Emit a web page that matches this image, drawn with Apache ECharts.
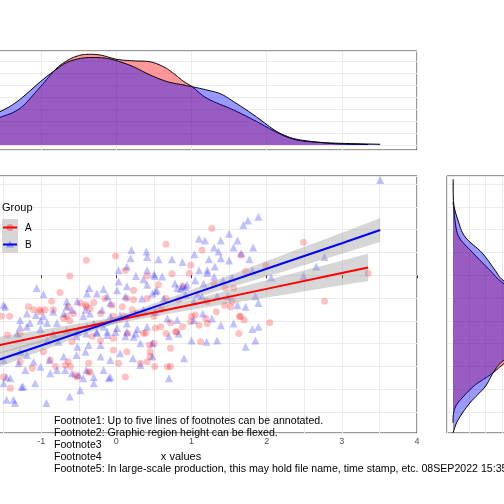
<!DOCTYPE html>
<html><head><meta charset="utf-8">
<script src="https://cdn.jsdelivr.net/npm/echarts@6/dist/echarts.min.js"></script>
<style>html,body{margin:0;padding:0;background:#fff}#c{width:504px;height:504px}</style>
</head><body><div id="c"></div>
<script>
// Group A (red circles): [x, y]
const groupA = [[1.27,1.03],[0.66,0.68],[2.49,0.72],[1.14,0.55],[1.66,0.44],[-0.01,0.42],[-0.40,0.33],[0.99,0.22],[1.99,0.22],[1.72,0.08],
[0.12,0.11],[-0.62,-0.02],[0.41,-0.02],[0.74,0.03],[0.97,0.04],[3.35,0.04],[0.23,-0.33],[0.56,-0.21],[0.88,-0.24],[1.30,-0.18],
[1.45,-0.28],[1.56,-0.28],[-0.75,-0.38],[-0.86,-0.57],[-0.48,-0.61],[-0.40,-0.69],[-0.15,-0.51],[-0.06,-0.66],[0.14,-0.51],[0.23,-0.54],
[0.41,-0.51],[0.66,-0.51],[0.83,-0.54],[1.21,-0.57],[1.44,-0.66],[1.54,-0.57],[2.77,-0.57],[-1.53,-0.90],[-1.42,-0.90],[-1.17,-0.69],
[-1.10,-0.76],[-1.02,-0.76],[-0.95,-0.76],[-0.84,-0.76],[-0.66,-0.90],[-0.57,-0.84],[-0.35,-0.73],[-0.21,-0.84],[-0.04,-0.90],[0.10,-0.90],
[0.28,-0.84],[0.50,-0.90],[0.72,-1.04],[0.88,-1.13],[1.00,-0.90],[1.10,-1.10],[1.21,-1.06],[1.33,-0.80],[1.64,-0.90],[1.70,-0.98],
[2.04,-1.04],[-1.45,-1.31],[-1.28,-1.28],[-0.97,-1.68],[-0.59,-1.46],[-0.32,-1.34],[-0.21,-1.43],[-0.04,-1.38],[0.15,-1.28],[0.36,-1.28],
[0.44,-1.53],[0.50,-1.49],[0.66,-1.28],[0.80,-1.24],[1.12,-1.46],[1.63,-1.28],[-0.04,-1.64],[0.14,-1.68],[0.45,-1.68],[-1.28,-1.90],
[-1.12,-2.04],[-0.88,-1.86],[-0.81,-2.00],[-0.64,-1.90],[-0.61,-2.00],[-0.37,-1.93],[0.03,-1.93],[0.32,-1.93],[0.51,-2.00],[0.72,-2.00],
[0.45,-1.78],[-1.50,-2.23],[-1.41,-2.48],[-0.55,-2.19],[-0.35,-2.12],[0.12,-2.23],[-0.70,-0.95],[-0.62,-1.00],[-0.30,-0.60],[0.60,-0.75],
[-0.64,-0.69],[-0.41,-0.65],[0.08,-0.69],[0.21,-0.76],[0.52,-1.16],[0.39,-1.27],[0.59,-1.13],[0.79,-1.24],[0.99,-1.02],[1.05,-0.87],
[1.19,-0.95],[1.52,-0.69],[1.65,-0.91],[0.72,-1.60],[0.68,-2.01],[0.41,-1.90],[-0.68,-1.97],[-0.52,-2.23],[-0.37,-2.12],[-1.01,-0.80]];

// Group B (blue triangles): [x, y]
const groupB = [[3.51,2.09],[1.89,1.28],[1.75,1.20],[1.69,1.10],[1.50,0.91],[1.10,0.80],[1.18,0.76],[1.39,0.76],[1.61,0.76],[1.30,0.61],
[1.36,0.52],[1.56,0.61],[1.82,0.61],[0.20,0.55],[0.40,0.52],[1.66,0.48],[0.19,0.37],[0.41,0.40],[0.56,0.35],[0.74,0.35],
[0.88,0.29],[1.04,0.46],[1.23,0.35],[1.39,0.37],[1.50,0.32],[1.77,0.35],[2.77,0.40],[2.66,0.19],[0.14,0.19],[0.03,0.11],
[0.41,0.11],[1.21,0.11],[1.31,0.19],[1.10,0.11],[0.03,-0.14],[0.14,-0.24],[0.26,-0.02],[0.51,-0.02],[0.61,-0.03],[0.78,-0.18],
[0.88,-0.24],[0.94,-0.21],[0.81,-0.28],[1.05,-0.11],[1.16,-0.18],[1.30,-0.03],[1.42,-0.11],[1.54,-0.05],[1.81,0.11],[2.06,-0.05],
[2.49,-0.02],[-0.36,-0.28],[-0.17,-0.30],[0.01,-0.33],[0.41,-0.21],[0.54,-0.33],[-1.06,-0.28],[-0.97,-0.42],[-0.66,-0.57],[-0.52,-0.57],
[-0.39,-0.40],[-0.26,-0.40],[-0.12,-0.46],[-0.08,-0.61],[0.12,-0.46],[0.34,-0.51],[0.48,-0.40],[0.63,-0.51],[0.92,-0.42],[1.03,-0.57],
[1.14,-0.46],[1.34,-0.46],[1.48,-0.46],[1.61,-0.66],[1.72,-0.69],[1.85,-0.46],[1.89,-0.61],[-1.48,-0.69],[-1.19,-0.84],[-1.07,-0.87],
[-0.97,-0.90],[-0.84,-0.80],[-0.70,-0.84],[-0.59,-0.76],[-0.44,-0.90],[-0.35,-0.84],[-0.19,-0.76],[-0.08,-0.90],[0.05,-0.87],[0.26,-0.84],
[0.36,-0.76],[0.52,-0.80],[0.68,-0.95],[0.81,-0.98],[1.03,-0.98],[1.15,-0.84],[1.27,-0.95],[1.56,-1.06],[1.81,-1.18],[1.89,-1.13],
[1.39,-1.10],[-1.32,-1.28],[-1.19,-1.13],[-1.01,-1.18],[-0.84,-1.28],[-0.92,-1.43],[-0.77,-1.46],[-0.53,-1.34],[-0.40,-1.28],[-0.26,-1.24],
[-0.12,-1.31],[-0.01,-1.24],[0.12,-1.34],[0.26,-1.28],[0.32,-1.49],[0.48,-1.49],[0.70,-1.34],[0.83,-1.28],[1.00,-1.43],[1.20,-1.46],
[1.34,-1.43],[1.72,-1.57],[1.85,-1.43],[-0.52,-1.57],[-0.37,-1.53],[-0.21,-1.53],[-1.50,-1.86],[-1.28,-1.68],[-1.19,-1.75],[-1.10,-1.90],
[-0.89,-1.86],[-0.70,-1.78],[-0.53,-1.75],[-0.41,-1.68],[-0.21,-1.78],[-0.08,-1.86],[0.05,-1.71],[0.22,-1.82],[0.32,-1.97],[0.48,-1.78],
[0.90,-1.82],[-0.17,-2.08],[-0.40,-2.08],[-0.68,-2.08],[-1.41,-2.26],[-1.50,-2.37],[-1.24,-2.44],[-1.08,-2.37],[-0.88,-2.15],[-0.50,-2.19],
[-0.48,-2.52],[-0.30,-2.37],[-0.10,-2.26],[0.70,-2.26],[-0.62,-2.66],[-1.46,-2.73],[-1.37,-2.73],[-1.35,-2.80],[-0.93,-2.80],[-0.66,-0.69],
[-0.41,-0.76],[-0.30,-1.06],[-0.17,-1.13],[0.14,-1.06],[0.28,-1.18],[0.41,-1.13],[-1.01,-1.00],[-1.28,-1.13],[0.86,-0.30],[0.92,-0.26],
[-1.50,-0.65],[-1.28,-0.98],[-1.15,-1.05],[-0.92,-1.05],[-0.79,-1.05],[-0.66,-1.20],[-0.52,-1.24],[-0.39,-1.13],[-0.26,-1.27],[-0.12,-1.24],
[0.01,-1.16],[0.14,-1.24],[0.23,-1.35],[-1.30,-1.93],[-1.21,-2.08],[-1.01,-2.01],[-0.79,-2.08],[-0.59,-2.15],[-0.44,-2.26],[-0.30,-2.23],
[-0.08,-2.23],[-1.46,-2.23],[-1.26,-2.45],[0.50,0.02],[0.36,-0.09],[0.52,-0.35],[1.08,-0.42],[1.21,0.05]];

// Linear fits with confidence half-widths
const fitA_x  = [-2.0, -1.0, 0.0, 1.0, 2.0, 3.0, 3.35];
const fitA_y  = [-1.69, -1.34, -0.99, -0.65, -0.30, 0.05, 0.17];
const fitA_se = [0.22, 0.14, 0.08, 0.11, 0.19, 0.27, 0.30];
const fitB_x  = [-2.0, -1.0, 0.0, 1.0, 2.0, 3.0, 3.51];
const fitB_y  = [-2.10, -1.54, -0.98, -0.42, 0.14, 0.70, 0.99];
const fitB_se = [0.19, 0.12, 0.07, 0.10, 0.17, 0.23, 0.26];

// Marginal density of x: [x, density]
const densXA = [[-2.0,0.07],[-1.8,0.09],[-1.55,0.115],[-1.28,0.153],[-1.01,0.243],[-0.81,0.315],[-0.66,0.351],[-0.52,0.371],[-0.39,0.378],
[-0.21,0.375],[0.01,0.357],[0.23,0.351],[0.45,0.347],[0.63,0.326],[0.76,0.299],[0.90,0.264],[1.01,0.243],[1.21,0.194],[1.56,0.146],
[1.83,0.104],[2.10,0.058],[2.28,0.032],[2.45,0.018],[2.72,0.010],[2.99,0.004],[3.35,0.002]];
const densXB = [[-2.0,0.09],[-1.8,0.11],[-1.55,0.139],[-1.32,0.181],[-1.01,0.264],[-0.81,0.313],[-0.66,0.344],[-0.48,0.361],[-0.30,0.365],
[-0.12,0.361],[0.05,0.347],[0.23,0.326],[0.45,0.292],[0.68,0.264],[0.90,0.250],[1.01,0.243],[1.21,0.229],[1.39,0.213],[1.56,0.181],
[1.83,0.125],[2.10,0.063],[2.28,0.035],[2.45,0.021],[2.72,0.011],[2.99,0.007],[3.51,0.003]];

// Marginal density of y: [y, density]
const densYA = [[-3.24,0.0],[-3.02,0.002],[-2.80,0.015],[-2.45,0.061],[-2.30,0.09],[-2.14,0.123],[-1.93,0.158],[-1.6,0.22],[-1.1,0.29],
[-0.6,0.25],[-0.17,0.153],[0.11,0.113],[0.49,0.061],[0.84,0.018],[1.21,0.006],[1.43,0.003],[1.6,0.0]];
const densYB = [[-3.46,0.0],[-3.18,0.015],[-2.80,0.052],[-2.45,0.098],[-2.14,0.123],[-1.93,0.145],[-1.8,0.17],[-1.4,0.25],[-0.9,0.28],
[-0.4,0.22],[-0.11,0.153],[0.11,0.129],[0.49,0.089],[0.84,0.037],[1.21,0.015],[1.58,0.002],[2.1,0.0005]];

const footnotes = [
 'Footnote1: Up to five lines of footnotes can be annotated.',
 'Footnote2: Graphic region height can be flexed.',
 'Footnote3',
 'Footnote4',
 'Footnote5: In large-scale production, this may hold file name, time stamp, etc. 08SEP2022 15:35'
];
const legendTitle = 'Group';
const groupNames = ['A', 'B'];
const xTitle = 'x values';

const FONT = '"Liberation Sans", Arial, sans-serif';
const GRIDC = '#EBEBEB';
const BORDER = '#333333';

function catmull(pts, n) {
  const out = [];
  for (let i = 0; i < pts.length - 1; i++) {
    const p0 = pts[Math.max(i - 1, 0)], p1 = pts[i], p2 = pts[i + 1], p3 = pts[Math.min(i + 2, pts.length - 1)];
    for (let k = 0; k < n; k++) {
      const t = k / n, t2 = t * t, t3 = t2 * t;
      out.push([0, 1].map(j => 0.5 * ((2 * p1[j]) + (-p0[j] + p2[j]) * t + (2 * p0[j] - 5 * p1[j] + 4 * p2[j] - p3[j]) * t2 + (-p0[j] + 3 * p1[j] - 3 * p2[j] + p3[j]) * t3)));
    }
  }
  out.push(pts[pts.length - 1]);
  return out;
}

function densitySeries(pts, horizontal, color, xi, yi, z) {
  return {
    type: 'custom', xAxisIndex: xi, yAxisIndex: yi, clip: true, silent: true, z: z,
    data: pts, encode: horizontal ? { x: 1, y: 0 } : { x: 0, y: 1 },
    renderItem: function (params, api) {
      if (params.dataIndex !== 0) return null;
      const raw = pts.map(p => horizontal ? api.coord([p[1], p[0]]) : api.coord([p[0], p[1]]));
      const line = catmull(raw, 8);
      const first = pts[0][0], last = pts[pts.length - 1][0];
      const b0 = horizontal ? api.coord([0, first]) : api.coord([first, 0]);
      const b1 = horizontal ? api.coord([0, last]) : api.coord([last, 0]);
      return {
        type: 'group', children: [
          { type: 'polygon', shape: { points: [b0].concat(line, [b1]) }, style: { fill: color, stroke: null } },
          { type: 'polyline', shape: { points: line }, style: { fill: null, stroke: '#000', lineWidth: 1 } }
        ]
      };
    }
  };
}

function bandSeries(xs, ys, se) {
  return {
    type: 'custom', xAxisIndex: 0, yAxisIndex: 0, clip: true, silent: true, z: 3,
    data: xs.map((x, i) => [x, ys[i] - se[i], ys[i] + se[i]]),
    encode: { x: 0, y: [1, 2] },
    renderItem: function (params, api) {
      if (params.dataIndex !== 0) return null;
      const up = catmull(xs.map((x, i) => api.coord([x, ys[i] + se[i]])), 6);
      const lo = catmull(xs.map((x, i) => api.coord([x, ys[i] - se[i]])), 6).reverse();
      return { type: 'polygon', shape: { points: up.concat(lo) }, style: { fill: 'rgba(153,153,153,0.4)', stroke: null } };
    }
  };
}

const chart = echarts.init(document.getElementById('c'), null, { renderer: 'canvas' });

const hiddenAxisBits = { axisLine: { show: false }, axisTick: { show: false }, axisLabel: { show: false } };
const gridCommon = { show: true, borderColor: BORDER, borderWidth: 1, backgroundColor: '#fff', containLabel: false, outerBoundsMode: 'none' };

const option = {
  backgroundColor: '#fff',
  animation: false,
  grid: [
    Object.assign({ left: -34, right: 87, top: 176, bottom: 71 }, gridCommon),
    Object.assign({ left: -34, right: 87, top: 51, bottom: 354 }, gridCommon),
    Object.assign({ left: 447, right: -100, top: 176, bottom: 71 }, gridCommon)
  ],
  xAxis: [
    { type: 'value', gridIndex: 0, min: -2, max: 4, interval: 1,
      axisLine: { show: false },
      axisTick: { show: true, length: 3, lineStyle: { color: BORDER } },
      axisLabel: { show: true, margin: 4, fontSize: 9, color: '#4D4D4D', fontFamily: FONT, hideOverlap: false },
      splitLine: { show: true, lineStyle: { color: GRIDC, width: 1 } },
      minorTick: { show: false, splitNumber: 2 },
      minorSplitLine: { show: true, lineStyle: { color: GRIDC, width: 1 } } },
    Object.assign({ type: 'value', gridIndex: 1, min: -2, max: 4, interval: 1,
      splitLine: { show: true, lineStyle: { color: GRIDC, width: 1 } } }, hiddenAxisBits),
    Object.assign({ type: 'value', gridIndex: 2, min: -0.0184, max: 0.463, minInterval: 0.05, maxInterval: 0.05,
      splitLine: { show: true, lineStyle: { color: GRIDC, width: 1 } } }, hiddenAxisBits)
  ],
  yAxis: [
    Object.assign({ type: 'value', gridIndex: 0, min: -3.46, max: 2.175, minInterval: 0.5, maxInterval: 0.5,
      splitLine: { show: true, lineStyle: { color: GRIDC, width: 1 } } }, hiddenAxisBits),
    Object.assign({ type: 'value', gridIndex: 1, min: -0.0208, max: 0.392, minInterval: 0.05, maxInterval: 0.05,
      splitLine: { show: true, lineStyle: { color: GRIDC, width: 1 } } }, hiddenAxisBits),
    Object.assign({ type: 'value', gridIndex: 2, min: -3.46, max: 2.175, minInterval: 0.5, maxInterval: 0.5,
      splitLine: { show: true, lineStyle: { color: GRIDC, width: 1 } } }, hiddenAxisBits)
  ],
  series: [
    { type: 'scatter', xAxisIndex: 0, yAxisIndex: 0, data: groupA, symbol: 'circle', symbolSize: 7, z: 2, silent: true,
      itemStyle: { color: 'rgba(255,0,0,0.3)' } },
    { type: 'scatter', xAxisIndex: 0, yAxisIndex: 0, data: groupB, symbol: 'triangle', symbolSize: 8, z: 2, silent: true,
      itemStyle: { color: 'rgba(0,0,255,0.3)' } },
    bandSeries(fitA_x, fitA_y, fitA_se),
    bandSeries(fitB_x, fitB_y, fitB_se),
    { type: 'line', xAxisIndex: 0, yAxisIndex: 0, data: fitA_x.map((x, i) => [x, fitA_y[i]]), showSymbol: false, z: 4, silent: true,
      lineStyle: { color: '#FF0000', width: 2 } },
    { type: 'line', xAxisIndex: 0, yAxisIndex: 0, data: fitB_x.map((x, i) => [x, fitB_y[i]]), showSymbol: false, z: 4, silent: true,
      lineStyle: { color: '#0000FF', width: 2 } },
    densitySeries(densXA, false, 'rgba(255,0,0,0.4)', 1, 1, 2),
    densitySeries(densXB, false, 'rgba(0,0,255,0.4)', 1, 1, 3),
    densitySeries(densYA, true, 'rgba(255,0,0,0.4)', 2, 2, 2),
    densitySeries(densYB, true, 'rgba(0,0,255,0.4)', 2, 2, 3)
  ],
  graphic: [
    { type: 'text', left: 2, top: 202, z: 10, style: { text: legendTitle, font: '11px ' + FONT, fill: '#000' } },
    { type: 'rect', shape: { x: 2, y: 219, width: 16, height: 17 }, z: 10, style: { fill: '#D6D6D6' } },
    { type: 'rect', shape: { x: 2, y: 236, width: 16, height: 17 }, z: 10, style: { fill: '#D6D6D6' } },
    { type: 'circle', shape: { cx: 10, cy: 227.5, r: 3.5 }, z: 11, style: { fill: 'rgba(255,0,0,0.3)' } },
    { type: 'line', shape: { x1: 3, y1: 227.5, x2: 17, y2: 227.5 }, z: 12, style: { stroke: '#FF0000', lineWidth: 2 } },
    { type: 'polygon', shape: { points: [[10, 240.5], [14, 247.5], [6, 247.5]] }, z: 11, style: { fill: 'rgba(0,0,255,0.3)' } },
    { type: 'line', shape: { x1: 3, y1: 244.5, x2: 17, y2: 244.5 }, z: 12, style: { stroke: '#0000FF', lineWidth: 2 } },
    { type: 'text', x: 25, y: 228, z: 10, style: { text: groupNames[0], font: '10px ' + FONT, fill: '#000', textVerticalAlign: 'middle' } },
    { type: 'text', x: 25, y: 245, z: 10, style: { text: groupNames[1], font: '10px ' + FONT, fill: '#000', textVerticalAlign: 'middle' } },
    { type: 'text', x: 181, y: 457, z: 10, style: { text: xTitle, font: '11px ' + FONT, fill: '#000', textAlign: 'center', textVerticalAlign: 'middle' } }
  ].concat(footnotes.map((t, i) => ({
    type: 'text', x: 54, y: 421 + 12 * i, z: 20,
    style: { text: t, font: '10.6px ' + FONT, fill: '#000', textVerticalAlign: 'middle' }
  })))
};
chart.setOption(option);
</script>
</body></html>
